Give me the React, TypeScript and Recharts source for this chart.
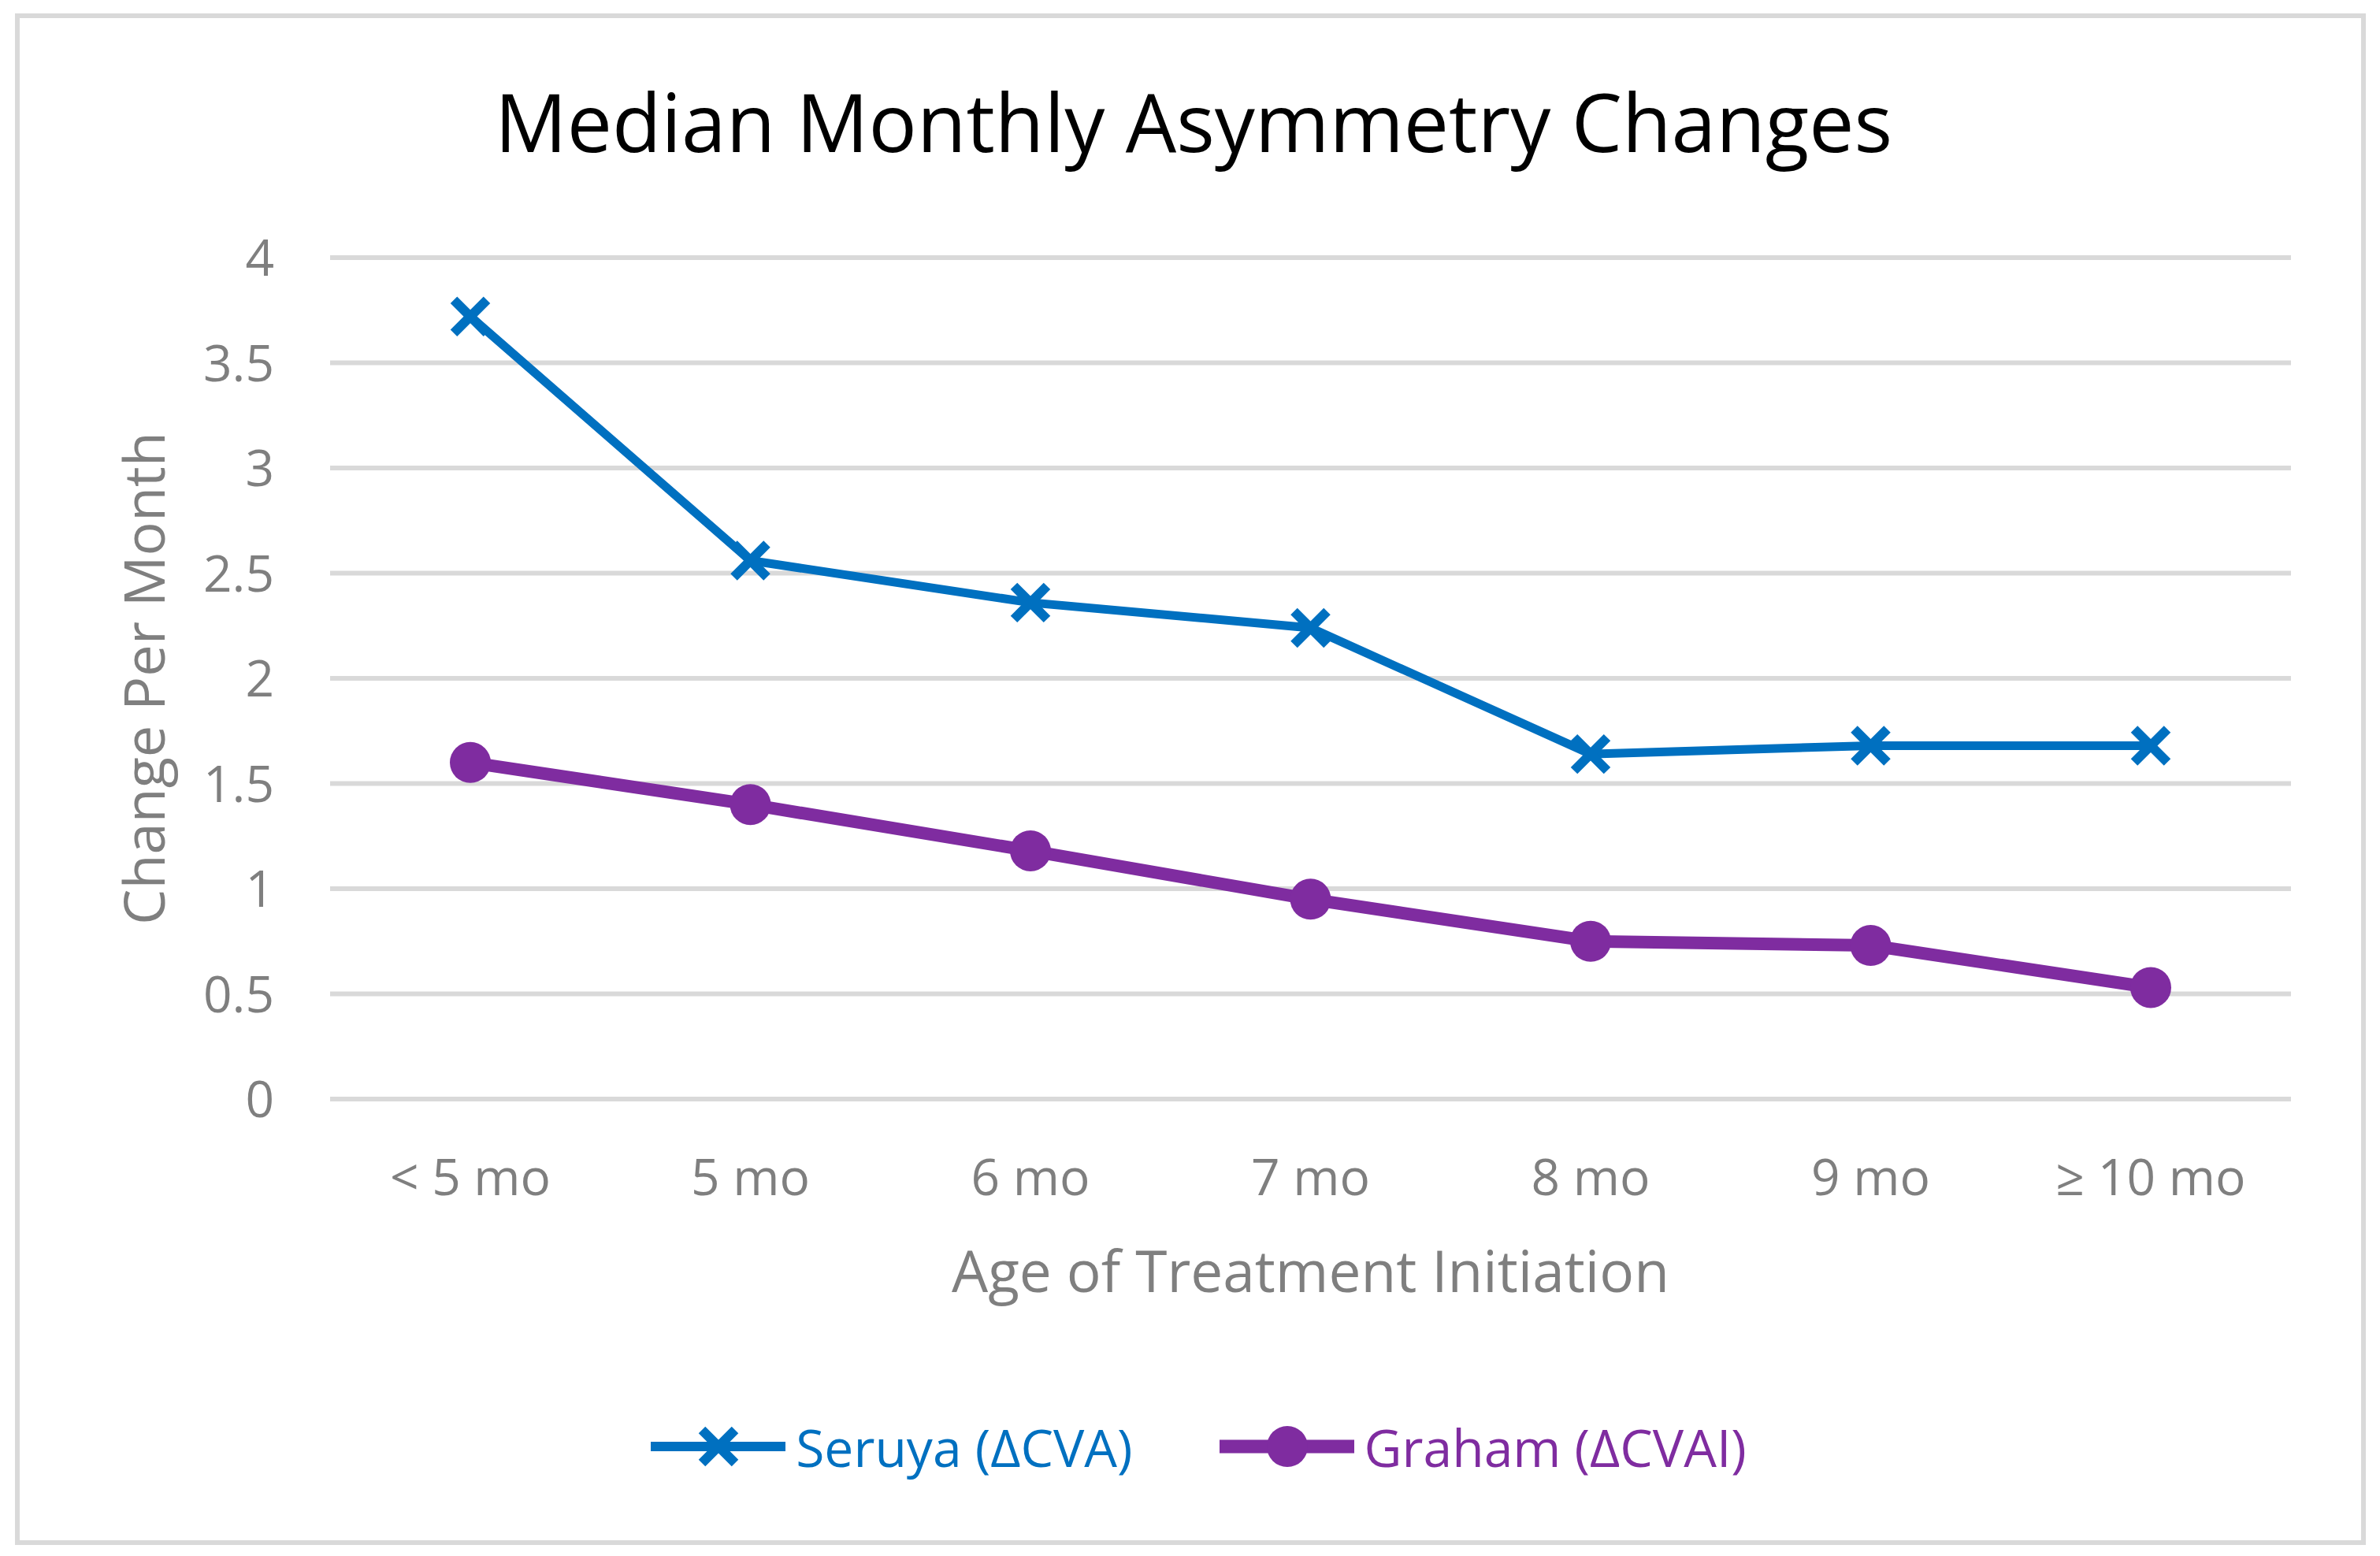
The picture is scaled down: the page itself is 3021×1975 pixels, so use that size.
import { LineChart, Line, XAxis, YAxis, CartesianGrid, Legend, Label, Customized } from "recharts";

const ages = ["< 5 mo", "5 mo", "6 mo", "7 mo", "8 mo", "9 mo", "≥ 10 mo"];
const seruya = [3.72, 2.56, 2.36, 2.24, 1.64, 1.68, 1.68];
const graham = [1.6, 1.4, 1.18, 0.95, 0.75, 0.73, 0.53];
const yTicks = [0, 0.5, 1, 1.5, 2, 2.5, 3, 3.5, 4];
const seriesOrder = ["seruya", "graham"];

const data = ages.map((age, i) => ({ age, seruya: seruya[i], graham: graham[i] }));

const FONT = "'Open Sans', sans-serif";
const BLUE = "#0070C0";
const PURPLE = "#7F2CA0";
const GRAY = "#7F7F7F";
const GRID = "#D9D9D9";

const W = 3021;
const H = 1975;

function Cross({ cx, cy, color, s = 21, w = 12 }) {
  return (
    <g>
      <line x1={cx - s} y1={cy - s} x2={cx + s} y2={cy + s} stroke={color} strokeWidth={w} />
      <line x1={cx - s} y1={cy + s} x2={cx + s} y2={cy - s} stroke={color} strokeWidth={w} />
    </g>
  );
}

const crossDot = (props) => <Cross key={props.key ?? props.index} cx={props.cx} cy={props.cy} color={BLUE} />;
const circleDot = (props) => (
  <circle key={props.key ?? props.index} cx={props.cx} cy={props.cy} r={26} fill={PURPLE} />
);

const XTick = ({ x, y, payload }) => (
  <text x={x} y={y + 122} textAnchor="middle" fill={GRAY} fontSize={64} fontFamily={FONT}>
    {payload.value}
  </text>
);

const YTick = ({ x, y, payload }) => (
  <text x={x - 71} y={y} dy="0.36em" textAnchor="end" fill={GRAY} fontSize={64} fontFamily={FONT}>
    {payload.value}
  </text>
);

const XTitle = ({ viewBox }) => (
  <text
    x={viewBox.x + viewBox.width / 2}
    y={viewBox.y + 245}
    textAnchor="middle"
    fill={GRAY}
    fontSize={73}
    fontFamily={FONT}
  >
    Age of Treatment Initiation
  </text>
);

const YTitle = ({ viewBox }) => {
  const cx = viewBox.x - 110;
  const cy = viewBox.y + viewBox.height / 2;
  return (
    <text
      x={cx}
      y={cy}
      transform={`rotate(-90 ${cx} ${cy})`}
      textAnchor="middle"
      fill={GRAY}
      fontSize={72}
      fontFamily={FONT}
    >
      Change Per Month
    </text>
  );
};

const Title = () => (
  <text x={1515} y={193} textAnchor="middle" fill="#000" fontSize={102} fontFamily={FONT}>
    Median Monthly Asymmetry Changes
  </text>
);

const renderLegend = ({ payload }) => {
  const items = [...(payload || [])].sort(
    (a, b) => seriesOrder.indexOf(a.dataKey) - seriesOrder.indexOf(b.dataKey)
  );
  return (
    <div
      style={{
        display: "flex",
        justifyContent: "center",
        alignItems: "center",
        paddingLeft: 22,
        height: 100,
        fontFamily: FONT,
        fontSize: 66,
        lineHeight: 1,
      }}
    >
      {items.map((entry, i) => (
        <div key={entry.value} style={{ display: "flex", alignItems: "center", marginRight: i === 0 ? 110 : 0 }}>
          <svg width={171} height={60} style={{ marginRight: 13 }}>
            <line
              x1={0}
              y1={30}
              x2={171}
              y2={30}
              stroke={entry.color}
              strokeWidth={entry.dataKey === "graham" ? 17 : 12}
              strokeLinecap="round"
            />
            {entry.dataKey === "graham" ? (
              <circle cx={86} cy={30} r={26} fill={entry.color} />
            ) : (
              <Cross cx={86} cy={30} color={entry.color} />
            )}
          </svg>
          <span style={{ color: entry.color }}>{entry.value}</span>
        </div>
      ))}
    </div>
  );
};

export default function App() {
  return (
    <div style={{ position: "absolute", left: 0, top: 0, width: W, height: H, background: "#fff" }}>
      <div
        style={{
          position: "absolute",
          left: 19,
          top: 17,
          width: 2984,
          height: 1944,
          border: `6px solid ${GRID}`,
          boxSizing: "border-box",
        }}
      />
      <LineChart width={W} height={H} data={data} margin={{ top: 327, right: 113, bottom: 480, left: 319 }}>
        <CartesianGrid vertical={false} stroke={GRID} strokeWidth={6} />
        <XAxis
          dataKey="age"
          height={100}
          axisLine={false}
          tickLine={false}
          tickSize={0}
          tickMargin={0}
          padding={{ left: 178, right: 178 }}
          interval={0}
          tick={<XTick />}
        >
          <Label content={<XTitle />} />
        </XAxis>
        <YAxis
          width={100}
          domain={[0, 4]}
          ticks={yTicks}
          axisLine={false}
          tickLine={false}
          tickSize={0}
          tickMargin={0}
          tick={<YTick />}
        >
          <Label content={<YTitle />} />
        </YAxis>
        <Legend
          layout="horizontal"
          verticalAlign="middle"
          align="center"
          wrapperStyle={{ left: 0, top: 1786, width: W }}
          content={renderLegend}
        />
        <Line
          dataKey="seruya"
          name="Seruya (ΔCVA)"
          stroke={BLUE}
          strokeWidth={11}
          dot={crossDot}
          activeDot={false}
          isAnimationActive={false}
        />
        <Line
          dataKey="graham"
          name="Graham (ΔCVAI)"
          stroke={PURPLE}
          strokeWidth={16}
          dot={circleDot}
          activeDot={false}
          isAnimationActive={false}
        />
        <Customized component={Title} />
      </LineChart>
    </div>
  );
}
